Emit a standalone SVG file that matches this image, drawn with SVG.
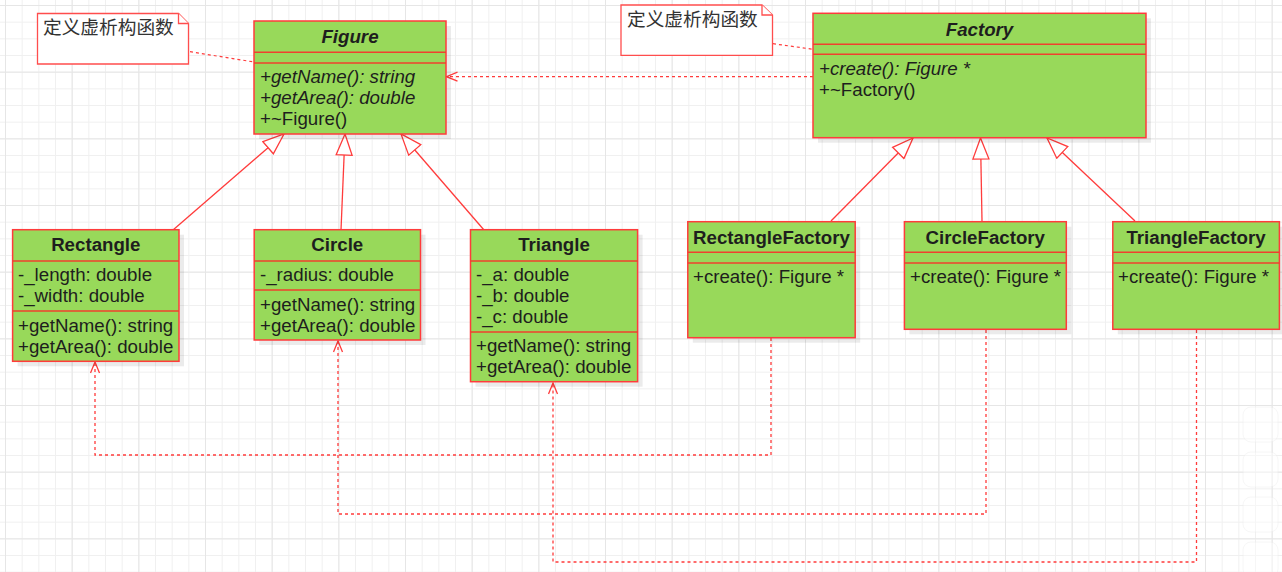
<svg xmlns="http://www.w3.org/2000/svg" width="1282" height="572" viewBox="0 0 1282 572">
<style>
.box{fill:#98d95a;stroke:#ff3b3b;stroke-width:1.5}
.sep{stroke:#f0402e;stroke-width:1.5;fill:none}
.shadow{fill:#000;opacity:0.08}
.t{font-family:"Liberation Sans",Arial,sans-serif;font-size:18.7px;fill:#1e1e1e}
.b{font-weight:bold;text-anchor:middle}
.i{font-style:italic}
.note{fill:#fff;stroke:#ff4d4d;stroke-width:1.3}
.cjk{font-family:"Liberation Sans","Noto Sans CJK SC",sans-serif;font-size:18.7px;fill:#333}
.inh{stroke:#ff3b3b;stroke-width:1.3;fill:none;marker-end:url(#tri)}
.dep{stroke:#ff3b3b;stroke-width:1.3;fill:none;stroke-dasharray:3 3;marker-end:url(#open)}
.lnk{stroke:#ff3b3b;stroke-width:1.2;fill:none;stroke-dasharray:3 3}
</style>
<defs>
<pattern id="gridMinor" patternUnits="userSpaceOnUse" x="5" y="5" width="16.667" height="16.667">
<path d="M0,0.5 H16.667 M0.5,0 V16.667" stroke="#f0f0f0" stroke-width="1" fill="none"/>
</pattern>
<pattern id="gridMajor" patternUnits="userSpaceOnUse" x="5" y="5" width="66.667" height="66.667">
<path d="M0,0.5 H66.667 M0.5,0 V66.667" stroke="#e6e6e6" stroke-width="1" fill="none"/>
</pattern>
<marker id="tri" markerUnits="userSpaceOnUse" viewBox="0 0 23 18" refX="22" refY="9" markerWidth="23" markerHeight="18" orient="auto">
<path d="M1,1 L22,9 L1,17 Z" fill="#fff" stroke="#ff3b3b" stroke-width="1.3"/>
</marker>
<marker id="open" markerUnits="userSpaceOnUse" viewBox="0 0 13 11" refX="12" refY="5.5" markerWidth="13" markerHeight="11" orient="auto">
<path d="M1,1 L12,5.5 L1,10" fill="none" stroke="#ff3b3b" stroke-width="1.3"/>
</marker>
</defs>
<rect width="1282" height="572" fill="#fff"/>
<rect width="1282" height="572" fill="url(#gridMinor)"/>
<rect width="1282" height="572" fill="url(#gridMajor)"/>

<g id="connectors">
<line class="inh" x1="173" y1="230" x2="284" y2="134"/>
<line class="inh" x1="341" y1="230" x2="345" y2="134"/>
<line class="inh" x1="484" y1="230" x2="401" y2="134"/>
<line class="inh" x1="831" y1="221" x2="913" y2="138"/>
<line class="inh" x1="982" y1="221" x2="980.5" y2="138"/>
<line class="inh" x1="1135" y1="221" x2="1047" y2="138"/>
<polyline class="dep" points="771,338 771,455 95,455 95,362"/>
<polyline class="dep" points="986,330 986,514 338,514 338,341"/>
<polyline class="dep" points="1196.5,330 1196.5,562 553,562 553,383"/>
<line class="dep" x1="813" y1="76.7" x2="446.5" y2="76.7"/>
<line class="lnk" x1="190" y1="51.7" x2="254" y2="62"/>
<line class="lnk" x1="773" y1="43.7" x2="813" y2="49.3"/>
</g>

<g id="note1">
<path class="note" d="M37.5,13.5 H178.5 L188.5,23.5 V64 H37.5 Z"/>
<path class="note" d="M178.5,13.5 V23.5 H188.5" fill="none"/>
<text class="cjk" x="43" y="33.5">定义虚析构函数</text>
</g>
<g id="note2">
<path class="note" d="M621,5 H762 L772.5,15 V55.3 H621 Z"/>
<path class="note" d="M762,5 V15 H772.5" fill="none"/>
<text class="cjk" x="627" y="26">定义虚析构函数</text>
</g>

<g id="Figure">
<rect class="shadow" x="259" y="26" width="192" height="113"/>
<rect class="box" x="254" y="21" width="192" height="113"/>
<line class="sep" x1="254" y1="52.3" x2="446" y2="52.3"/>
<line class="sep" x1="254" y1="63" x2="446" y2="63"/>
<text class="t b i" x="350" y="43">Figure</text>
<text class="t i" x="260" y="83">+getName(): string</text>
<text class="t i" x="260" y="104">+getArea(): double</text>
<text class="t" x="260" y="125">+~Figure()</text>
</g>

<g id="Factory">
<rect class="shadow" x="818" y="18.3" width="333" height="124.4"/>
<rect class="box" x="813" y="13.3" width="333" height="124.4"/>
<line class="sep" x1="813" y1="44.3" x2="1146" y2="44.3"/>
<line class="sep" x1="813" y1="54.3" x2="1146" y2="54.3"/>
<text class="t b i" x="979.5" y="35.5">Factory</text>
<text class="t i" x="819" y="74.5">+create(): Figure *</text>
<text class="t" x="819" y="95.5">+~Factory()</text>
</g>

<g id="Rectangle">
<rect class="shadow" x="17.6" y="234.7" width="166.4" height="131.6"/>
<rect class="box" x="12.6" y="229.7" width="166.4" height="131.6"/>
<line class="sep" x1="12.6" y1="261" x2="179" y2="261"/>
<line class="sep" x1="12.6" y1="311" x2="179" y2="311"/>
<text class="t b" x="95.8" y="251">Rectangle</text>
<text class="t" x="18" y="281">-_length: double</text>
<text class="t" x="18" y="302">-_width: double</text>
<text class="t" x="18" y="332">+getName(): string</text>
<text class="t" x="18" y="352.5">+getArea(): double</text>
</g>

<g id="Circle">
<rect class="shadow" x="259.2" y="234.7" width="166.3" height="110.3"/>
<rect class="box" x="254.2" y="229.7" width="166.3" height="110.3"/>
<line class="sep" x1="254.2" y1="261" x2="420.5" y2="261"/>
<line class="sep" x1="254.2" y1="290" x2="420.5" y2="290"/>
<text class="t b" x="337.3" y="251">Circle</text>
<text class="t" x="260" y="281">-_radius: double</text>
<text class="t" x="260" y="311">+getName(): string</text>
<text class="t" x="260" y="331.5">+getArea(): double</text>
</g>

<g id="Triangle">
<rect class="shadow" x="475.5" y="234.7" width="167.1" height="152"/>
<rect class="box" x="470.5" y="229.7" width="167.1" height="152"/>
<line class="sep" x1="470.5" y1="261" x2="637.6" y2="261"/>
<line class="sep" x1="470.5" y1="332" x2="637.6" y2="332"/>
<text class="t b" x="554" y="251">Triangle</text>
<text class="t" x="476" y="281">-_a: double</text>
<text class="t" x="476" y="302">-_b: double</text>
<text class="t" x="476" y="322.5">-_c: double</text>
<text class="t" x="476" y="352">+getName(): string</text>
<text class="t" x="476" y="372.5">+getArea(): double</text>
</g>

<g id="RectangleFactory">
<rect class="shadow" x="692.8" y="226.7" width="167.4" height="116"/>
<rect class="box" x="687.8" y="221.7" width="167.4" height="116"/>
<line class="sep" x1="687.8" y1="252.3" x2="855.2" y2="252.3"/>
<line class="sep" x1="687.8" y1="263" x2="855.2" y2="263"/>
<text class="t b" x="771.5" y="244">RectangleFactory</text>
<text class="t" x="693" y="283">+create(): Figure *</text>
</g>

<g id="CircleFactory">
<rect class="shadow" x="909.4" y="226.7" width="161.9" height="107.6"/>
<rect class="box" x="904.4" y="221.7" width="161.9" height="107.6"/>
<line class="sep" x1="904.4" y1="252.3" x2="1066.3" y2="252.3"/>
<line class="sep" x1="904.4" y1="263" x2="1066.3" y2="263"/>
<text class="t b" x="985.3" y="244">CircleFactory</text>
<text class="t" x="910" y="283">+create(): Figure *</text>
</g>

<g id="TriangleFactory">
<rect class="shadow" x="1117.8" y="226.7" width="166.6" height="107.6"/>
<rect class="box" x="1112.8" y="221.7" width="166.6" height="107.6"/>
<line class="sep" x1="1112.8" y1="252.3" x2="1279.4" y2="252.3"/>
<line class="sep" x1="1112.8" y1="263" x2="1279.4" y2="263"/>
<text class="t b" x="1196" y="244">TriangleFactory</text>
<text class="t" x="1118" y="283">+create(): Figure *</text>
</g>

<g id="toolbar" opacity="0.45">
<rect x="1243" y="407" width="35" height="35" rx="8" fill="#fff" stroke="#eeeeee"/>
<rect x="1243" y="452" width="35" height="35" rx="8" fill="#fff" stroke="#eeeeee"/>
<rect x="1243" y="497" width="35" height="35" rx="8" fill="#fff" stroke="#eeeeee"/>
<rect x="1243" y="542" width="35" height="35" rx="8" fill="#fff" stroke="#eeeeee"/>
</g>
</svg>
